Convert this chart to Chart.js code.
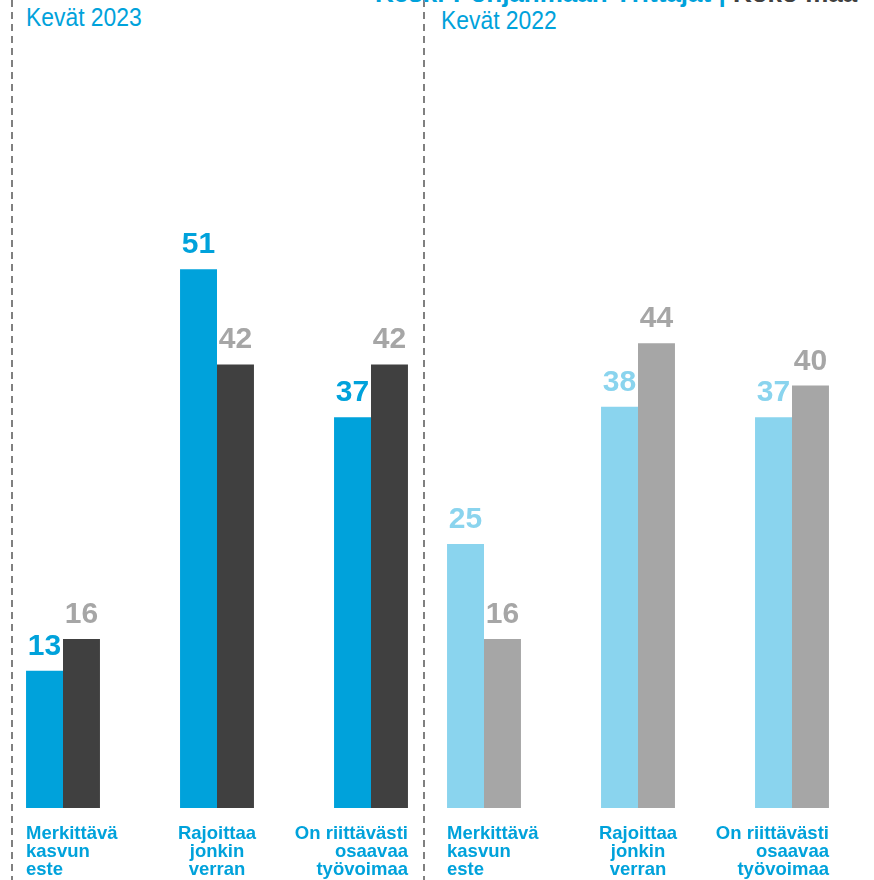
<!DOCTYPE html>
<html>
<head>
<meta charset="utf-8">
<script src="https://cdn.jsdelivr.net/npm/chart.js@4"></script>
<style>
  html, body { margin: 0; padding: 0; background: #fff; overflow: hidden; }
  #page { position: relative; width: 874px; height: 880px; overflow: hidden; }
  canvas { position: absolute; top: 0; }
  .txt { position: absolute; white-space: nowrap; line-height: 1; }
  #title { font: bold 26px "Liberation Sans", Arial, sans-serif; color: #00A2DB; left: 375px; top: -22px; }
  #title span { color: #404040; }
  .sub { font: 26px "Liberation Sans Narrow", "Liberation Sans", Arial, sans-serif; color: #00A2DB;
         transform: scaleX(0.88); transform-origin: left top; }
  svg { position: absolute; left: 0; top: 0; }
</style>
</head>
<body>
<div id="page">
  <svg width="874" height="880">
    <line x1="12" y1="0" x2="12" y2="880" stroke="#808080" stroke-width="2" stroke-dasharray="7 5"/>
    <line x1="424" y1="0" x2="424" y2="880" stroke="#808080" stroke-width="2" stroke-dasharray="7 5"/>
  </svg>
  <div id="title" class="txt">Keski-Pohjanmaan Yrittäjät | <span>Koko maa</span></div>
  <div class="txt sub" style="left:26px; top:2px;">Kevät 2023</div>
  <div class="txt sub" style="left:441px; top:5px;">Kevät 2022</div>
  <canvas id="left" width="462" height="880" style="left:-14px"></canvas>
  <canvas id="right" width="462" height="880" style="left:407px"></canvas>
</div>
<script>
// categories and values
const categories = [
    ['Merkittävä', 'kasvun', 'este'],
    ['Rajoittaa', 'jonkin', 'verran'],
    ['On riittävästi', 'osaavaa', 'työvoimaa']
];
const region2023 = [13, 51, 37];
const wholeCountry2023 = [16, 42, 42];
const region2022 = [25, 38, 37];
const wholeCountry2022 = [16, 44, 40];

const BLUE = '#00A2DB';
const DARK = '#404040';
const LIGHT_BLUE = '#8AD4EE';
const GREY = '#A6A6A6';

// values above the bars + category names under them
const labelsPlugin = {
    id: 'labels',
    afterDatasetsDraw(chart, args, opts) {
        const ctx = chart.ctx;
        ctx.save();
        ctx.font = 'bold 30px "Liberation Sans", Arial, sans-serif';
        ctx.textAlign = 'center';
        ctx.textBaseline = 'alphabetic';
        chart.data.datasets.forEach((ds, di) => {
            const meta = chart.getDatasetMeta(di);
            meta.data.forEach((bar, i) => {
                ctx.fillStyle = opts.valueColors[di];
                ctx.fillText(ds.data[i], bar.x, bar.y - 16);
            });
        });

        // category names: first left aligned, middle centred, last right aligned
        const m0 = chart.getDatasetMeta(0).data;
        const m1 = chart.getDatasetMeta(1).data;
        const bottom = chart.chartArea.bottom;
        const n = chart.data.labels.length;
        ctx.font = 'bold 18.5px "Liberation Sans", Arial, sans-serif';
        ctx.fillStyle = BLUE;
        chart.data.labels.forEach((lines, i) => {
            let x, align;
            if (i === 0) { x = m0[i].x - m0[i].width / 2; align = 'left'; }
            else if (i === n - 1) { x = m1[i].x + m1[i].width / 2; align = 'right'; }
            else { x = chart.scales.x.getPixelForValue(i); align = 'center'; }
            ctx.textAlign = align;
            lines.forEach((line, li) => {
                ctx.fillText(line, x, bottom + 31 + li * 18);
            });
        });
        ctx.restore();
    }
};

function makeChart(id, first, second, colors) {
    const ctx = document.getElementById(id).getContext('2d');
    return new Chart(ctx, {
        type: 'bar',
        data: {
            labels: categories,
            datasets: [{
                data: first,
                backgroundColor: colors[0],
                barPercentage: 1,
                categoryPercentage: 0.48,
            }, {
                data: second,
                backgroundColor: colors[1],
                barPercentage: 1,
                categoryPercentage: 0.48,
            }]
        },
        options: {
            responsive: false,
            animation: false,
            devicePixelRatio: 1,
            layout: { padding: { top: 0, left: 0, right: 0, bottom: 72 } },
            plugins: {
                legend: { display: false },
                tooltip: { enabled: false },
                labels: { valueColors: colors.valueColors }
            },
            scales: {
                x: { display: false },
                y: { display: false, min: 0, max: 76.5 }
            }
        },
        plugins: [labelsPlugin]
    });
}

const leftColors = [BLUE, DARK];
leftColors.valueColors = [BLUE, GREY];
const rightColors = [LIGHT_BLUE, GREY];
rightColors.valueColors = [LIGHT_BLUE, GREY];

makeChart('left', region2023, wholeCountry2023, leftColors);
makeChart('right', region2022, wholeCountry2022, rightColors);
</script>
</body>
</html>
